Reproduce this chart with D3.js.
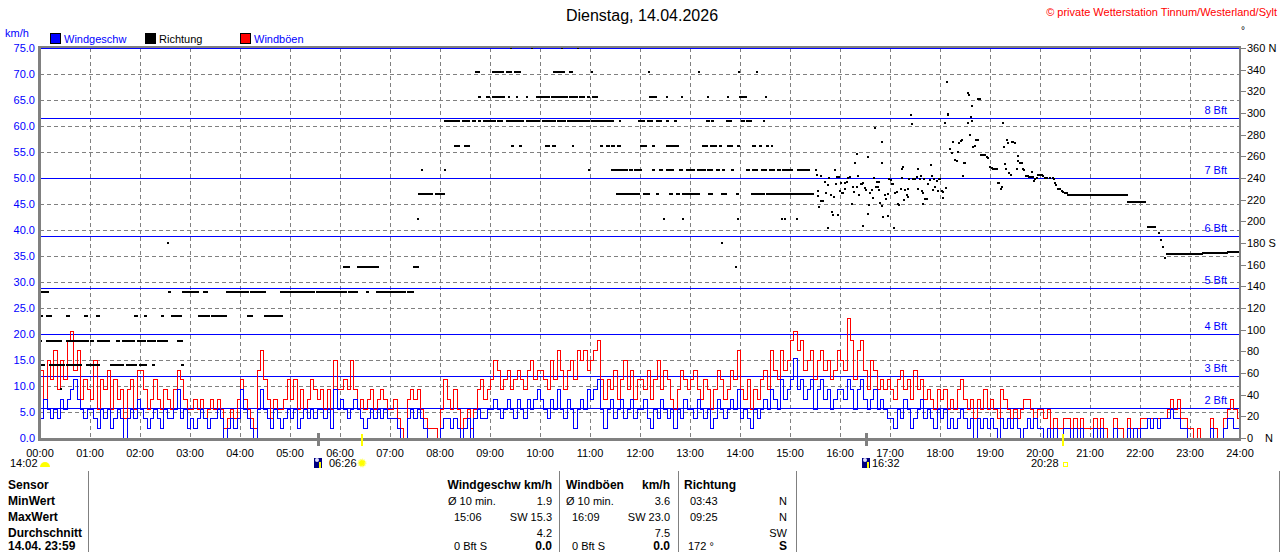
<!DOCTYPE html>
<html>
<head>
<meta charset="utf-8">
<script src="https://cdn.jsdelivr.net/npm/d3@7"></script>
<style>
  body { margin: 0; background: #fff; }
  svg { display: block; font-family: "Liberation Sans", Arial, sans-serif; }
</style>
</head>
<body>
<svg id="chart" width="1280" height="552"></svg>
<script>
"use strict";

// ---- data ----
const title = "Dienstag, 14.04.2026"
const copyright = "© private Wetterstation Tinnum/Westerland/Sylt"

// one value every 4 minutes, 15 per hour, 00:00 .. 23:56
const sampleStep = 4
const windSpeed = [
  3.8, 7.5, 5.6, 3.8, 5.6, 3.8, 7.5, 5.6, 7.5, 9.4, 11.3, 7.5, 5.6, 3.8, 5.6,
  5.6, 3.8, 1.9, 5.6, 3.8, 5.6, 1.9, 3.8, 5.6, 3.8, 0, 3.8, 5.6, 3.8, 7.5,
  5.6, 3.8, 1.9, 3.8, 5.6, 3.8, 1.9, 5.6, 3.8, 3.8, 5.6, 9.4, 3.8, 5.6, 1.9,
  3.8, 1.9, 3.8, 5.6, 3.8, 1.9, 3.8, 3.8, 5.6, 3.8, 0, 1.9, 3.8, 1.9, 3.8,
  9.4, 5.6, 3.8, 1.9, 0, 5.6, 9.4, 5.6, 3.8, 1.9, 5.6, 3.8, 1.9, 3.8, 5.6,
  3.8, 5.6, 1.9, 3.8, 5.6, 3.8, 5.6, 3.8, 5.6, 5.6, 3.8, 5.6, 1.9, 9.4, 5.6,
  7.5, 5.6, 3.8, 5.6, 7.5, 5.6, 3.8, 1.9, 3.8, 5.6, 3.8, 5.6, 3.8, 5.6, 3.8,
  3.8, 3.8, 1.9, 0, 0, 3.8, 5.6, 3.8, 5.6, 3.8, 1.9, 0, 0, 0, 0,
  1.9, 3.8, 3.8, 1.9, 3.8, 1.9, 0, 1.9, 3.8, 0, 3.8, 5.6, 3.8, 3.8, 5.6,
  5.6, 7.5, 5.6, 3.8, 5.6, 7.5, 5.6, 3.8, 7.5, 5.6, 3.8, 7.5, 5.6, 7.5, 9.4,
  7.5, 5.6, 3.8, 7.5, 5.6, 9.4, 5.6, 3.8, 7.5, 5.6, 1.9, 5.6, 7.5, 5.6, 9.4,
  7.5, 9.4, 11.3, 5.6, 1.9, 5.6, 7.5, 3.8, 5.6, 7.5, 3.8, 5.6, 7.5, 3.8, 5.6,
  5.6, 7.5, 3.8, 1.9, 5.6, 3.8, 7.5, 5.6, 3.8, 5.6, 1.9, 5.6, 3.8, 7.5, 5.6,
  5.6, 3.8, 7.5, 5.6, 3.8, 5.6, 1.9, 3.8, 7.5, 5.6, 3.8, 5.6, 7.5, 5.6, 9.4,
  3.8, 5.6, 3.8, 1.9, 5.6, 3.8, 5.6, 7.5, 5.6, 9.4, 7.5, 5.6, 11.3, 7.5, 9.4,
  11.3, 15.3, 9.4, 11.3, 7.5, 9.4, 11.3, 5.6, 9.4, 11.3, 7.5, 9.4, 5.6, 7.5, 9.4,
  9.4, 7.5, 11.3, 9.4, 5.6, 9.4, 11.3, 7.5, 5.6, 7.5, 9.4, 5.6, 7.5, 5.6, 3.8,
  3.8, 1.9, 5.6, 3.8, 7.5, 5.6, 1.9, 3.8, 5.6, 7.5, 3.8, 5.6, 3.8, 1.9, 5.6,
  3.8, 5.6, 1.9, 3.8, 1.9, 3.8, 5.6, 3.8, 1.9, 3.8, 0, 3.8, 1.9, 3.8, 1.9,
  3.8, 1.9, 0, 3.8, 1.9, 3.8, 1.9, 3.8, 1.9, 0, 1.9, 3.8, 1.9, 3.8, 1.9,
  1.9, 0, 1.9, 0, 1.9, 0, 0, 1.9, 1.9, 0, 1.9, 0, 1.9, 0, 0,
  0, 1.9, 0, 1.9, 0, 0, 0, 1.9, 0, 0, 0, 1.9, 0, 1.9, 0,
  1.9, 1.9, 3.8, 1.9, 3.8, 1.9, 3.8, 3.8, 3.8, 5.6, 3.8, 3.8, 1.9, 1.9, 0,
  0, 0, 0, 0, 0, 0, 1.9, 0, 0, 0, 1.9, 3.8, 3.8, 1.9, 1.9
]
const windGust = [
  13.1, 7.5, 15.0, 11.3, 16.9, 9.4, 15.0, 11.3, 18.8, 20.6, 13.1, 16.9, 7.5, 11.3, 9.4,
  7.5, 15.0, 5.6, 11.3, 9.4, 13.1, 5.6, 11.3, 7.5, 9.4, 3.8, 9.4, 11.3, 5.6, 13.1,
  13.1, 9.4, 5.6, 7.5, 11.3, 7.5, 5.6, 9.4, 7.5, 5.6, 9.4, 13.1, 11.3, 7.5, 5.6,
  5.6, 7.5, 5.6, 7.5, 3.8, 5.6, 7.5, 5.6, 7.5, 5.6, 1.9, 3.8, 5.6, 3.8, 7.5,
  11.3, 7.5, 5.6, 3.8, 1.9, 13.1, 16.9, 11.3, 7.5, 3.8, 7.5, 5.6, 5.6, 7.5, 11.3,
  7.5, 11.3, 5.6, 9.4, 5.6, 7.5, 11.3, 9.4, 7.5, 9.4, 5.6, 9.4, 5.6, 15.0, 9.4,
  9.4, 11.3, 9.4, 15.0, 9.4, 5.6, 7.5, 5.6, 7.5, 9.4, 5.6, 7.5, 9.4, 7.5, 5.6,
  5.6, 7.5, 3.8, 1.9, 0, 7.5, 9.4, 7.5, 9.4, 5.6, 3.8, 1.9, 1.9, 1.9, 0,
  5.6, 11.3, 7.5, 5.6, 9.4, 5.6, 1.9, 3.8, 5.6, 1.9, 5.6, 9.4, 11.3, 7.5, 9.4,
  11.3, 15.0, 13.1, 9.4, 11.3, 13.1, 9.4, 11.3, 13.1, 11.3, 9.4, 13.1, 15.0, 11.3, 13.1,
  13.1, 11.3, 9.4, 15.0, 11.3, 16.9, 13.1, 9.4, 13.1, 15.0, 11.3, 16.9, 15.0, 16.9, 13.1,
  15.0, 16.9, 18.8, 11.3, 7.5, 11.3, 9.4, 13.1, 7.5, 11.3, 15.0, 9.4, 13.1, 7.5, 11.3,
  11.3, 9.4, 13.1, 7.5, 11.3, 15.0, 9.4, 13.1, 11.3, 7.5, 5.6, 9.4, 13.1, 11.3, 9.4,
  11.3, 13.1, 9.4, 7.5, 11.3, 9.4, 5.6, 9.4, 13.1, 11.3, 7.5, 9.4, 13.1, 11.3, 16.9,
  9.4, 7.5, 11.3, 5.6, 9.4, 7.5, 11.3, 13.1, 9.4, 16.9, 13.1, 11.3, 16.9, 13.1, 15.0,
  18.8, 20.6, 16.9, 18.8, 13.1, 15.0, 16.9, 11.3, 15.0, 16.9, 13.1, 15.0, 11.3, 13.1, 16.9,
  15.0, 13.1, 23.0, 18.8, 11.3, 16.9, 18.8, 13.1, 9.4, 15.0, 13.1, 9.4, 11.3, 9.4, 11.3,
  9.4, 7.5, 11.3, 13.1, 9.4, 11.3, 7.5, 13.1, 9.4, 11.3, 7.5, 9.4, 7.5, 5.6, 9.4,
  7.5, 9.4, 5.6, 7.5, 5.6, 9.4, 11.3, 7.5, 5.6, 7.5, 3.8, 7.5, 5.6, 9.4, 5.6,
  7.5, 5.6, 3.8, 9.4, 7.5, 5.6, 3.8, 5.6, 3.8, 5.6, 7.5, 7.5, 5.6, 3.8, 5.6,
  5.6, 3.8, 5.6, 1.9, 3.8, 1.9, 1.9, 3.8, 3.8, 1.9, 3.8, 1.9, 3.8, 1.9, 1.9,
  1.9, 3.8, 1.9, 3.8, 1.9, 0, 0, 3.8, 1.9, 1.9, 0, 3.8, 1.9, 1.9, 1.9,
  3.8, 3.8, 3.8, 3.8, 3.8, 3.8, 3.8, 3.8, 5.6, 7.5, 5.6, 7.5, 3.8, 3.8, 1.9,
  1.9, 0, 1.9, 0, 0, 0, 3.8, 1.9, 0, 0, 3.8, 5.6, 7.5, 5.6, 3.8
]

// wind direction: runs where the value holds [from min, to min, degrees]
const dirRuns = [
  [1,6,67.5],[12,20,67.5],[22,30,67.5],[32,40,67.5],[42,50,67.5],[56,72,67.5],[85,100,67.5],
  [104,116,67.5],[120,128,67.5],[136,138,67.5],[170,172,67.5],
  [1,2,90],[8,26,90],[32,40,90],[42,50,90],[52,59,90],[61,64,90],[70,85,90],[92,95,90],
  [100,114,90],[118,128,90],[130,140,90],[142,154,90],[166,172,90],
  [0,4,112.5],[8,14,112.5],[32,36,112.5],[54,58,112.5],[68,72,112.5],[114,118,112.5],
  [126,128,112.5],[146,148,112.5],[158,170,112.5],[191,204,112.5],[206,214,112.5],
  [216,224,112.5],[250,256,112.5],[270,292,112.5],
  [2,10,135],[155,158,135],[172,191,135],[197,202,135],[224,250,135],[253,271,135],
  [289,330,135],[332,368,135],[371,382,135],[392,394,135],[404,439,135],[442,449,135],
  [365,372,157.5],[382,407,157.5],[449,455,157.5],
  [455,472,225],[475,486,225],[498,504,270],[486,499,292.5],
  [523,528,337.5],[543,556,337.5],[560,566,337.5],[570,577,337.5],[617,630,337.5],[636,639,337.5],
  [527,529,315],[536,540,315],[543,552,315],[554,558,315],[596,604,315],[606,612,315],
  [614,622,315],[624,634,315],[636,646,315],[648,654,315],[658,660,315],[664,670,315],
  [732,740,315],[840,848,315],
  [486,496,292.5],[498,504,292.5],[508,516,292.5],[520,524,292.5],[527,529,292.5],
  [533,548,292.5],[550,556,292.5],[560,580,292.5],[584,590,292.5],[592,600,292.5],
  [604,620,292.5],[622,632,292.5],[634,660,292.5],[662,688,292.5],[719,726,292.5],
  [730,736,292.5],[740,746,292.5],[752,754,292.5],[762,764,292.5],[800,803,292.5],
  [806,808,292.5],[824,830,292.5],[842,846,292.5],[848,854,292.5],
  [510,516,270],[566,568,270],[576,578,270],[607,612,270],[616,620,270],[673,676,270],
  [680,683,270],[686,690,270],[693,696,270],[721,728,270],[736,738,270],[752,766,270],
  [796,802,270],[805,812,270],[816,818,270],[826,832,270],[838,840,270],[856,860,270],
  [864,866,270],[872,874,270],[878,879,270],
  [686,700,247.5],[702,706,247.5],[708,712,247.5],[714,722,247.5],[736,738,247.5],
  [744,748,247.5],[752,760,247.5],[768,772,247.5],[776,786,247.5],[790,800,247.5],
  [802,808,247.5],[812,816,247.5],[820,822,247.5],[830,832,247.5],[848,852,247.5],
  [856,862,247.5],[866,872,247.5],[876,882,247.5],[886,890,247.5],[894,904,247.5],
  [910,924,247.5],
  [480,486,225],[692,720,225],[725,732,225],[740,742,225],[756,760,225],[764,768,225],
  [772,792,225],[803,808,225],[818,824,225],[836,838,225],[854,870,225],[872,928,225],
  [1236,1306,224],[1306,1328,218],[1330,1340,195],
  [1352,1395,170],[1395,1425,171],[1425,1439,172]
]
// single direction readings [minute, degrees]
const dirDots = [
  [25,45],[154,180],[454,202.5],[458,247.5],[486,247.5],
  [565,360],[590,360],[626,360],[645,360],
  [662,337.5],[731,337.5],[791,337.5],[839,337.5],[860,337.5],
  [563,315],[572,315],[584,315],[752,315],[770,315],[802,315],[826,315],[871,315],
  [696,292.5],[869,292.5],[640,270],[659,247.5],[931,247.5],[892,247.5],[899,247.5],
  [749,202.5],[772,202.5],[838,202.5],[890,202.5],[894,202.5],[908,202.5],
  [818,180],[835,157.5],
  [932,242.7],[933,228.3],[933,223.7],[935,212.9],[937,241.8],[937,219.1],[939,219.1],
  [942,236.3],[943,225.8],[945,233.8],[946,194.1],[947,240],[949,224],[950,208.6],
  [951,205.8],[953,222.1],[954,247.4],[955,234.4],[956,241.2],[958,205.5],[959,240.6],
  [960,227.7],[961,235],[962,225.8],[964,225.8],[966,235],[966,229.5],[968,236],
  [970,240],[972,240.6],[974,216],[975,232],[977,227],[978,254.1],[980,232],[980,262.1],
  [982,241.8],[983,224.6],[985,234.4],[986,234.4],[987,235.7],[988,196],[990,230.4],
  [991,228.9],[993,259.7],[994,206.7],[995,215.4],[996,225.8],[998,228.9],[999,221.5],
  [1001,240.3],[1002,286.4],[1003,232],[1004,236.3],[1005,232],[1007,236.3],[1007,228.9],
  [1008,216.6],[1010,273.5],[1010,254.1],[1011,214.4],[1012,204.3],[1014,224.6],
  [1015,220.3],[1017,204.9],[1018,225.2],[1019,239.4],[1021,238.1],[1022,234.4],
  [1023,234.4],[1025,194.1],[1026,226.4],[1028,227],[1030,216],[1031,215.4],[1033,230.1],
  [1034,240],[1034,248],[1036,249.8],[1037,219.7],[1038,228.9],[1040,224.6],[1041,222.7],
  [1042,230.1],[1043,238.8],[1045,298.1],[1046,289.5],[1048,239.4],[1049,239.4],
  [1050,238.8],[1052,240.6],[1053,248],[1054,229.5],[1056,239.4],[1057,241.8],
  [1058,227.7],[1059,225.8],[1060,216],[1061,239.4],[1062,220.9],[1064,220.9],
  [1065,234.4],[1066,234.4],[1068,238.1],[1069,252.3],[1070,241.8],[1072,228.9],
  [1073,239.4],[1074,232],[1076,237.5],[1077,228.3],[1079,239.4],[1080,238.8],
  [1082,227.7],[1083,227],[1084,221.5],[1086,291.1],[1087,230.7],[1088,328.6],
  [1089,298.1],[1090,299],[1092,266.4],[1094,262.8],[1096,273.5],[1098,256.6],
  [1100,256],[1102,264.3],[1103,272.6],[1105,274.1],[1106,275.1],[1107,242.1],
  [1109,254.1],[1110,254.1],[1113,318.1],[1115,316.9],[1113,291.1],[1116,279.7],
  [1117,296.6],[1118,292.9],[1118,306.7],[1120,268.9],[1122,269.8],[1123,275.1],
  [1125,275.1],[1126,312.9],[1128,312.9],[1129,261.5],[1131,261.5],[1134,261.5],
  [1136,259.7],[1138,258.7],[1140,250.4],[1142,249.2],[1144,248],[1146,248.6],
  [1148,248.6],[1150,235],[1151,235.7],[1153,229.5],[1154,231.4],[1156,291.1],
  [1157,268.3],[1158,252.9],[1159,248.6],[1160,275.1],[1162,272],[1163,244.3],
  [1165,242.7],[1166,273.2],[1168,273.2],[1170,272],[1172,248.6],[1173,260.3],
  [1174,256],[1176,254.1],[1178,254.1],[1179,248.6],[1181,247.4],[1183,241.8],
  [1185,241.8],[1187,241.2],[1189,241.2],[1190,245.5],[1191,240.6],[1193,237.5],
  [1194,239.4],[1196,240.3],[1198,242.7],[1200,242.7],[1202,242.7],[1204,241.8],
  [1206,240.3],[1208,240.3],[1212,240.3],[1215,240.3],[1217,238.8],[1218,235.7],
  [1219,233.2],[1222,230.1],[1224,230.1],[1226,228.3],[1228,227],[1230,226.4],
  [1232,225.8],[1234,224],[1343,189],[1345,183],[1348,176],[1350,166]
]

const speedTicks = d3.range(0, 75.1, 5)
const dirTicks = d3.range(0, 361, 20)
const dirNames = {0: "N", 180: "S", 360: "N"}
const bftLimits = [5.8, 12, 20, 28.8, 38.9, 50, 61.6, 75]
const bftNames = ["2 Bft", "3 Bft", "4 Bft", "5 Bft", "6 Bft", "7 Bft", "8 Bft", ""]
const hourTicks = d3.range(0, 1441, 60)

// sun and moon times (minutes)
const moonRise = 334, moonSet = 992, sunRise = 386, sunSet = 1228

const tableHead = ["Sensor", "Windgeschw km/h", "Windböen", "km/h", "Richtung"]
const tableRows = [
  ["MinWert", "Ø 10 min.", "1.9", "Ø 10 min.", "3.6", "03:43", "N"],
  ["MaxWert", "15:06", "SW 15.3", "16:09", "SW 23.0", "09:25", "N"],
  ["Durchschnitt", "", "4.2", "", "7.5", "", "SW"],
  ["14.04. 23:59", "0 Bft S", "0.0", "0 Bft S", "0.0", "172 °", "S"]
]

// ---- drawing ----
const svg = d3.select("#chart")
const pLeft = 40, pRight = 1240, pTop = 48, pBottom = 438

const x = d3.scaleLinear().domain([0, 1440]).range([pLeft, pRight])
const y = d3.scaleLinear().domain([0, 75]).range([pBottom, pTop])
const yDir = d3.scaleLinear().domain([0, 360]).range([pBottom, pTop])

const blue = "#0000ff", red = "#ff0000", grey = "#808080"

// header
svg.append("text").attr("x", 642).attr("y", 21).attr("text-anchor", "middle")
  .attr("font-size", 16).attr("fill", "#000").text(title)
svg.append("text").attr("x", 1277).attr("y", 16).attr("text-anchor", "end")
  .attr("font-size", 11).attr("fill", red).text(copyright)
svg.append("text").attr("x", 1241).attr("y", 34).attr("font-size", 10).text("°")

svg.append("text").attr("x", 5).attr("y", 37).attr("font-size", 11).attr("fill", blue).text("km/h")
const legend = [
  {x: 50, fill: blue, text: "Windgeschw", color: blue},
  {x: 145, fill: "#000", text: "Richtung", color: "#000"},
  {x: 240, fill: red, text: "Windböen", color: blue}
]
legend.forEach(d => {
  svg.append("rect").attr("x", d.x + 0.5).attr("y", 33.5).attr("width", 10).attr("height", 10)
    .attr("fill", d.fill).attr("stroke", "#000").attr("stroke-width", 1)
  svg.append("text").attr("x", d.x + 14).attr("y", 43).attr("font-size", 11)
    .attr("fill", d.color).text(d.text)
})

// grid
const grid = svg.append("g").attr("stroke", grey).attr("stroke-dasharray", "4,3")
  .attr("shape-rendering", "crispEdges")
grid.selectAll(".gh").data(speedTicks.filter(v => v > 0 && v < 75)).enter().append("line")
  .attr("x1", pLeft).attr("x2", pRight)
  .attr("y1", d => Math.round(y(d)) + 0.5).attr("y2", d => Math.round(y(d)) + 0.5)
grid.selectAll(".gv").data(hourTicks.filter(t => t > 0 && t < 1440)).enter().append("line")
  .attr("y1", pTop).attr("y2", pBottom)
  .attr("x1", d => Math.round(x(d)) + 0.5).attr("x2", d => Math.round(x(d)) + 0.5)

// beaufort lines
svg.append("g").selectAll("line").data(bftLimits).enter().append("line")
  .attr("x1", pLeft).attr("x2", pRight)
  .attr("y1", d => Math.round(y(d)) + 0.5).attr("y2", d => Math.round(y(d)) + 0.5)
  .attr("stroke", blue).attr("shape-rendering", "crispEdges")
svg.append("g").selectAll("text").data(bftLimits).enter().append("text")
  .attr("x", 1227).attr("y", d => y(d) - 4).attr("text-anchor", "end")
  .attr("font-size", 11).attr("fill", blue).text((d, i) => bftNames[i])

// wind lines
const pts = arr => {
  let p = arr.map((v, i) => [i * sampleStep, v])
  p.push([1440, arr[arr.length - 1]])
  return p
}
const line = d3.line().x(d => Math.round(x(d[0])) + 0.5).y(d => Math.round(y(d[1])) + 0.5)
  .curve(d3.curveStepAfter)
svg.append("path").attr("d", line(pts(windGust))).attr("fill", "none")
  .attr("stroke", red).attr("stroke-width", 1).attr("shape-rendering", "crispEdges")
svg.append("path").attr("d", line(pts(windSpeed))).attr("fill", "none")
  .attr("stroke", blue).attr("stroke-width", 1).attr("shape-rendering", "crispEdges")

// direction
const dirG = svg.append("g").attr("fill", "#000").attr("shape-rendering", "crispEdges")
dirG.selectAll(".run").data(dirRuns).enter().append("rect")
  .attr("x", d => Math.round(x(d[0])) - 1)
  .attr("y", d => Math.round(yDir(d[2])) - 1)
  .attr("width", d => Math.max(2, Math.round(x(d[1]) - x(d[0])) + 1))
  .attr("height", 2)
dirG.selectAll(".dot").data(dirDots).enter().append("rect")
  .attr("x", d => Math.round(x(d[0])) - 1)
  .attr("y", d => Math.round(yDir(d[1])) - 1)
  .attr("width", 2).attr("height", 2)

// frame
const frame = svg.append("g").attr("stroke", grey).attr("shape-rendering", "crispEdges")
frame.append("line").attr("x1", pLeft - 1).attr("x2", pRight + 1).attr("y1", pTop - 1.5).attr("y2", pTop - 1.5).attr("stroke-width", 2)
frame.append("line").attr("x1", pLeft - 0.5).attr("x2", pLeft - 0.5).attr("y1", pTop - 2).attr("y2", pBottom + 2).attr("stroke-width", 3)
frame.append("line").attr("x1", pRight).attr("x2", pRight).attr("y1", pTop - 2).attr("y2", pBottom + 2).attr("stroke-width", 2)
frame.append("line").attr("x1", pLeft - 2).attr("x2", pRight + 1).attr("y1", pBottom + 1).attr("y2", pBottom + 1).attr("stroke-width", 3)

// left axis labels
svg.append("g").selectAll("text").data(speedTicks).enter().append("text")
  .attr("x", 35).attr("y", d => y(d) + 4).attr("text-anchor", "end")
  .attr("font-size", 11).attr("fill", blue).text(d => d.toFixed(1))

// right axis
const rAxis = svg.append("g")
rAxis.selectAll("line").data(dirTicks).enter().append("line")
  .attr("x1", pRight).attr("x2", pRight + 6)
  .attr("y1", d => Math.round(yDir(d)) + 0.5).attr("y2", d => Math.round(yDir(d)) + 0.5)
  .attr("stroke", grey).attr("shape-rendering", "crispEdges")
rAxis.selectAll("text").data(dirTicks).enter().append("text")
  .attr("x", 1247).attr("y", d => yDir(d) + 4).attr("font-size", 11).attr("fill", "#000")
  .text(d => d === 0 ? "0" : (dirNames[d] ? d + " " + dirNames[d] : d))
rAxis.append("text").attr("x", 1265).attr("y", yDir(0) + 4).attr("font-size", 11).text("N")

// time axis labels
svg.append("g").selectAll("text").data(hourTicks).enter().append("text")
  .attr("x", d => x(d)).attr("y", 457).attr("text-anchor", "middle").attr("font-size", 11)
  .text(d => d3.format("02")(d / 60) + ":00")

// sun / moon markers
const mk = svg.append("g").attr("shape-rendering", "crispEdges")
mk.append("line").attr("x1", x(moonRise)).attr("x2", x(moonRise)).attr("y1", 433).attr("y2", 446)
  .attr("stroke", grey).attr("stroke-width", 3)
mk.append("line").attr("x1", x(moonSet)).attr("x2", x(moonSet)).attr("y1", 433).attr("y2", 446)
  .attr("stroke", grey).attr("stroke-width", 3)
mk.append("line").attr("x1", x(sunRise)).attr("x2", x(sunRise)).attr("y1", 434).attr("y2", 446)
  .attr("stroke", "#ffff00").attr("stroke-width", 2)
mk.append("line").attr("x1", x(sunSet)).attr("x2", x(sunSet)).attr("y1", 434).attr("y2", 446)
  .attr("stroke", "#ffff00").attr("stroke-width", 2)

svg.append("text").attr("x", 10).attr("y", 467).attr("font-size", 11).text("14:02")
svg.append("path").attr("d", "M40,467 A5,5 0 0 1 50,467 Z").attr("fill", "#ffff00")

const moonIcon = (mx) => {
  svg.append("rect").attr("x", mx).attr("y", 458).attr("width", 8).attr("height", 10).attr("fill", "#000080")
  svg.append("circle").attr("cx", mx + 3).attr("cy", 460).attr("r", 2).attr("fill", "#e0e0ff")
  svg.append("rect").attr("x", mx + 5).attr("y", 462).attr("width", 2).attr("height", 6).attr("fill", "#ffff00")
}
moonIcon(314)
svg.append("text").attr("x", 329).attr("y", 467).attr("font-size", 11).text("06:26")
svg.append("circle").attr("cx", 362).attr("cy", 463).attr("r", 3.5).attr("fill", "#ffff00")
  .attr("stroke", "#ffff80").attr("stroke-width", 2).attr("stroke-dasharray", "1,1")
moonIcon(862)
svg.append("text").attr("x", 872).attr("y", 467).attr("font-size", 11).text("16:32")
svg.append("text").attr("x", 1031).attr("y", 467).attr("font-size", 11).text("20:28")
svg.append("rect").attr("x", 1063.5).attr("y", 462.5).attr("width", 4).attr("height", 4)
  .attr("fill", "none").attr("stroke", "#ffff00")

// table
const tbl = svg.append("g")
;[88, 559, 678, 796, 1279].forEach(lx => {
  tbl.append("line").attr("x1", lx + 0.5).attr("x2", lx + 0.5).attr("y1", 471).attr("y2", 552)
    .attr("stroke", grey).attr("shape-rendering", "crispEdges")
})
const cell = (tx, ty, txt, opt = {}) => {
  tbl.append("text").attr("x", tx).attr("y", ty)
    .attr("text-anchor", opt.end ? "end" : "start")
    .attr("font-size", opt.bold ? 12 : 11)
    .attr("font-weight", opt.bold ? "bold" : "normal").text(txt)
}
const rowY = 489, rowH = 16
cell(8, rowY, tableHead[0], {bold: true})
cell(552, rowY, tableHead[1], {bold: true, end: true})
cell(566, rowY, tableHead[2], {bold: true})
cell(670, rowY, tableHead[3], {bold: true, end: true})
cell(684, rowY, tableHead[4], {bold: true})
tableRows.forEach((r, i) => {
  const last = i === tableRows.length - 1
  // the last row sits a little higher so that it stays inside the page
  const ty = last ? 550 : rowY + (i + 1) * rowH
  const indent = i === 0 ? 0 : 6
  cell(8, ty, r[0], {bold: true})
  cell(448 + indent, ty, r[1])
  cell(552, ty, r[2], {end: true, bold: last})
  cell(566 + indent, ty, r[3])
  cell(670, ty, r[4], {end: true, bold: last})
  cell(last ? 688 : 690, ty, r[5])
  cell(787, ty, r[6], {end: true, bold: last})
})
</script>
</body>
</html>
